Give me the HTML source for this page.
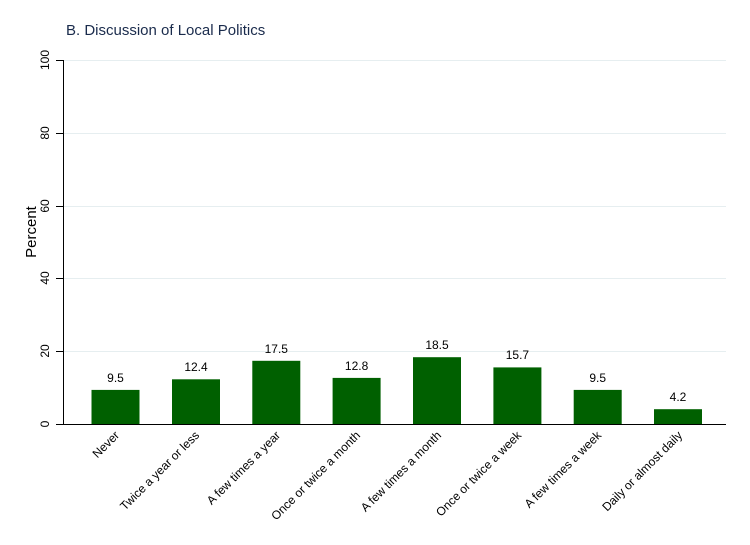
<!DOCTYPE html>
<html><head><style>body{margin:0;background:#fff}svg{display:block}</style></head><body>
<svg width="750" height="545" xmlns="http://www.w3.org/2000/svg" font-family="Liberation Sans, Arial, sans-serif">
<rect width="750" height="545" fill="#fff"/>
<text x="66" y="35" font-size="15" fill="#1a2b4c">B. Discussion of Local Politics</text>
<g stroke="#e6eef0" stroke-width="1">
<line x1="63" x2="726" y1="351.5" y2="351.5"/><line x1="63" x2="726" y1="278.5" y2="278.5"/>
<line x1="63" x2="726" y1="206.5" y2="206.5"/><line x1="63" x2="726" y1="133.5" y2="133.5"/>
<line x1="63" x2="726" y1="60.5" y2="60.5"/>
</g>
<g fill="#006000">
<rect x="91.5" y="389.9" width="48" height="34.6"/>
<rect x="172" y="379.3" width="48" height="45.2"/>
<rect x="252.3" y="360.8" width="48" height="63.7"/>
<rect x="332.6" y="377.9" width="48" height="46.6"/>
<rect x="413" y="357.2" width="48" height="67.3"/>
<rect x="493.4" y="367.4" width="48" height="57.1"/>
<rect x="573.7" y="389.9" width="48" height="34.6"/>
<rect x="654" y="409.2" width="48" height="15.3"/>
</g>
<g stroke="#000" stroke-width="1">
<line x1="63.5" y1="60" x2="63.5" y2="425"/>
<line x1="56" y1="424.5" x2="726" y2="424.5"/>
<line x1="56" y1="351.5" x2="63" y2="351.5"/><line x1="56" y1="278.5" x2="63" y2="278.5"/>
<line x1="56" y1="206.5" x2="63" y2="206.5"/><line x1="56" y1="133.5" x2="63" y2="133.5"/>
<line x1="56" y1="60.5" x2="63" y2="60.5"/>
</g>
<g font-size="12" fill="#000" text-anchor="middle">
<text transform="translate(49,424) rotate(-90)">0</text>
<text transform="translate(49,351) rotate(-90)">20</text>
<text transform="translate(49,278) rotate(-90)">40</text>
<text transform="translate(49,206) rotate(-90)">60</text>
<text transform="translate(49,133) rotate(-90)">80</text>
<text transform="translate(49,60) rotate(-90)">100</text>
<text transform="translate(36,232) rotate(-90)" font-size="15">Percent</text>
</g>
<g font-size="12" fill="#000" text-anchor="middle">
<text x="115.5" y="382">9.5</text>
<text x="196" y="371">12.4</text>
<text x="276.3" y="353">17.5</text>
<text x="356.6" y="370">12.8</text>
<text x="437" y="349">18.5</text>
<text x="517.4" y="359">15.7</text>
<text x="597.7" y="382">9.5</text>
<text x="678" y="401">4.2</text>
</g>
<g font-size="12" fill="#000" text-anchor="end">
<text transform="translate(120,436) rotate(-45)">Never</text>
<text transform="translate(200,436) rotate(-45)">Twice a year or less</text>
<text transform="translate(281,436) rotate(-45)">A few times a year</text>
<text transform="translate(361,436) rotate(-45)">Once or twice a month</text>
<text transform="translate(442,436) rotate(-45)">A few times a month</text>
<text transform="translate(522,436) rotate(-45)">Once or twice a week</text>
<text transform="translate(602,436) rotate(-45)">A few times a week</text>
<text transform="translate(683,436) rotate(-45)">Daily or almost daily</text>
</g>
</svg>
</body></html>
